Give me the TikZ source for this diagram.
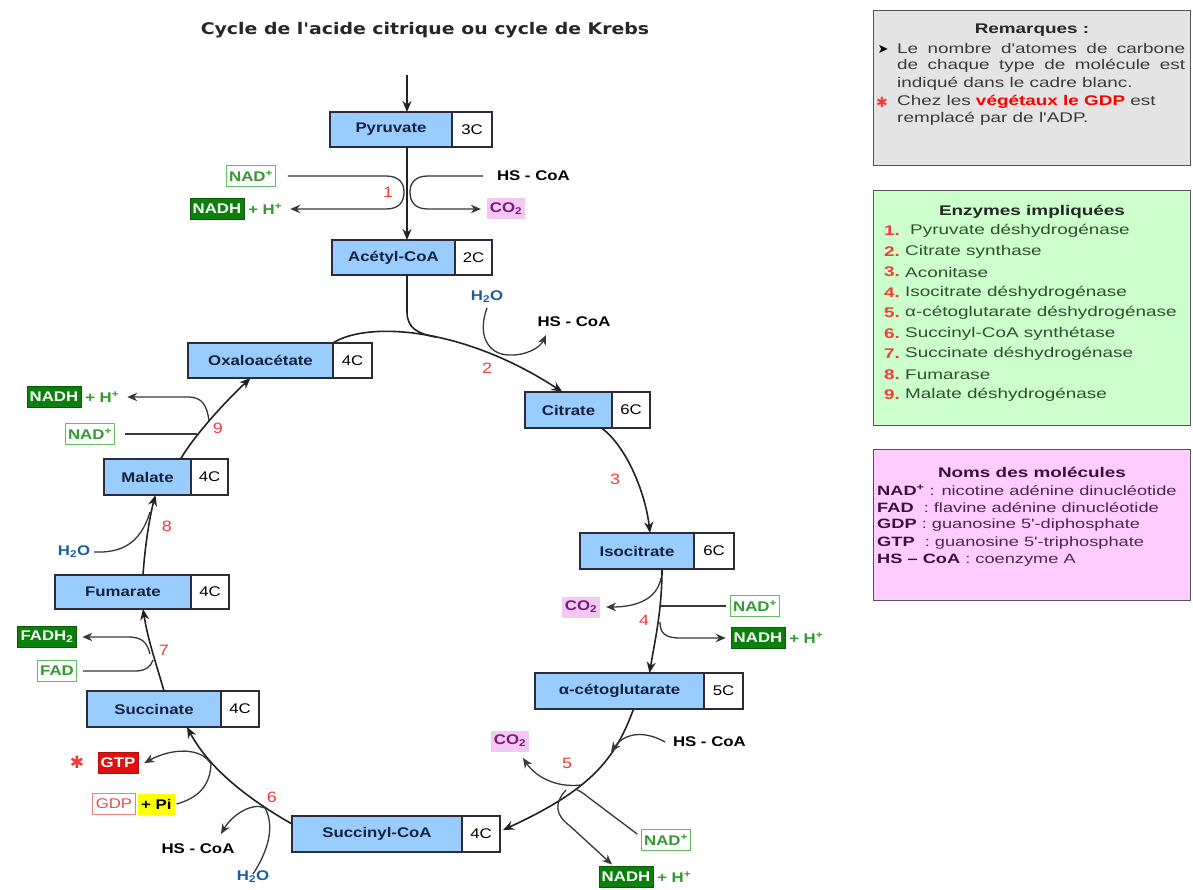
\documentclass[tikz,border=0pt]{standalone}
\usepackage{fontspec}
\setmainfont{Liberation Sans}
\newfontfamily\lab[FakeStretch=1.2]{Liberation Sans}
\newfontfamily\rf[FakeStretch=1.35]{Liberation Sans}
\newfontfamily\dv{DejaVu Sans}
\newfontfamily\ttl[FakeStretch=1.18]{DejaVu Sans}
\usetikzlibrary{arrows.meta}
\newcommand\myfs[1]{\fontsize{#1}{#1}\selectfont}
\definecolor{molblue}{HTML}{99CCFF}
\definecolor{molink}{HTML}{14223C}
\definecolor{boxline}{HTML}{2B2B3A}
\definecolor{arrc}{HTML}{222222}
\definecolor{sidec}{HTML}{383838}
\definecolor{nadbord}{HTML}{66BB66}
\definecolor{nadtext}{HTML}{339933}
\definecolor{nadhfill}{HTML}{0B800B}
\definecolor{co2bg}{HTML}{F3C8F3}
\definecolor{co2text}{HTML}{7A1A7A}
\definecolor{h2otext}{HTML}{1F5C9E}
\definecolor{numred}{HTML}{F03C3C}
\definecolor{gtpred}{HTML}{E01010}
\definecolor{gdpbord}{HTML}{F08080}
\definecolor{gdptext}{HTML}{E05050}
\definecolor{piyel}{HTML}{FFFF00}
\definecolor{remfill}{HTML}{E4E4E4}
\definecolor{enzfill}{HTML}{CCFFCC}
\definecolor{nomfill}{HTML}{FFCCFF}
\definecolor{framec}{HTML}{555555}
\definecolor{remtext}{HTML}{3A3A3A}
\definecolor{enztext}{HTML}{2F4F2F}
\definecolor{nomtext}{HTML}{4A2A4A}
\definecolor{nombold}{HTML}{3A103A}
\tikzset{
 molb/.style={draw=boxline, fill=molblue, line width=1.2pt, inner sep=0pt, outer sep=0pt, anchor=north west, text=molink, font=\lab\myfs{14}\bfseries},
 molc/.style={draw=boxline, fill=white, line width=1.2pt, inner sep=0pt, outer sep=0pt, anchor=north west, text=black, font=\lab\myfs{14}},
 rx/.style={draw=arrc, line width=1.6pt, -{Stealth[length=11pt,width=9pt]}},
 mainline/.style={draw=arrc, line width=1.6pt},
 side/.style={draw=sidec, line width=1.3pt},
 sidearr/.style={side, -{Stealth[length=10pt,width=8.5pt]}},
 lblbase/.style={inner sep=0pt, outer sep=0pt, font=\lab\myfs{14}\bfseries},
 hs/.style={lblbase, text=black},
 tag/.style={lblbase, minimum height=21pt, inner xsep=3pt},
 nad/.style={tag, draw=nadbord, line width=1pt, fill=white, text=nadtext},
 nadh/.style={tag, fill=nadhfill, draw=nadhfill!70!black, text=white},
 hplus/.style={lblbase, text=nadtext, anchor=west},
 co2/.style={tag, fill=co2bg, text=co2text},
 h2o/.style={lblbase, text=h2otext},
 num/.style={inner sep=0pt, text=numred, font=\lab\myfs{15}},
 panel/.style={draw=framec, line width=1.2pt, anchor=north west, minimum width=317pt, inner sep=0pt},
 rtxt/.style={inner sep=0pt, anchor=west, font=\rf\myfs{14}},
 rnum/.style={inner sep=0pt, anchor=west, font=\rf\myfs{14}\bfseries, text=numred},
}
\newcommand\molbox[8]{%
 \node[molb, minimum width={(#3-#2)*1pt}, minimum height={(#6-#5)*1pt}] (#1) at (#2,#5) {#7};
 \node[molc, minimum width={(#4-#3)*1pt}, minimum height={(#6-#5)*1pt}] (#1n) at (#3,#5) {#8};}
\begin{document}
\begin{tikzpicture}[x=1pt,y=-1pt]
\useasboundingbox (0,0) rectangle (1193,890);
\fill[white] (0,0) rectangle (1193,890);
% title
\node[font=\ttl\myfs{16}\bfseries, text=black!85, inner sep=0pt] (title) at (425,30) {Cycle de l'acide citrique ou cycle de Krebs};
% molecules
\molbox{pyr}{330}{452}{492}{112}{147}{Pyruvate}{3C}
\molbox{acet}{332}{455}{492}{240}{275}{Acétyl-CoA}{2C}
\molbox{oxa}{188}{333}{372}{343}{378}{Oxaloacétate}{4C}
\molbox{cit}{525}{612}{650}{392}{428}{Citrate}{6C}
\molbox{iso}{580}{694}{734}{533}{569}{Isocitrate}{6C}
\molbox{akg}{535}{704}{743}{673}{709}{α-cétoglutarate}{5C}
\molbox{scoa}{292}{462}{500}{816}{852}{Succinyl-CoA}{4C}
\molbox{succ}{87}{221}{259}{691}{727}{Succinate}{4C}
\molbox{fum}{55}{191}{229}{575}{609}{Fumarate}{4C}
\molbox{mal}{104}{191}{228}{459}{495}{Malate}{4C}
% ---- step 0 / 1
\coordinate (src) at (407,75);
\draw[rx] (src) -- (src |- pyr.north);
\draw[rx] (src |- pyr.south) -- (src |- acet.north);
\node[nad] (nad1) at (251,176) {NAD\textsuperscript{+}};
\node[nadh] (nadh1) at (217,209) {NADH};
\node[hplus] (hp1) at ([xshift=4pt]nadh1.east) {+ H\textsuperscript{+}};
\node[hs, anchor=west] (hs1) at (497,176) {HS - CoA};
\node[co2] (co21) at (506,209) {CO\textsubscript{2}};
\node[num] (n1) at (388,192) {1};
\draw[sidearr] ([xshift=12pt]nad1.east) -- (386,176) .. controls (399,176) and (404,183) .. (404,192) .. controls (404,202) and (399,209) .. (386,209) -- ([xshift=8pt]hp1.east);
\draw[sidearr] ([xshift=-14pt]hs1.west) -- (428,176) .. controls (415,176) and (410,183) .. (410,192) .. controls (410,202) and (415,209) .. (428,209) -- ([xshift=-6pt]co21.west);
% ---- step 2
\draw[rx] (oxa.north east) .. controls (365,322) and (460,325) .. ([xshift=-6pt]cit.north);
\draw[mainline] (src |- acet.south) -- (407,312) .. controls (407,328) and (418,334) .. (436,337);
\node[h2o] (h2o2) at (487,297) {H\textsubscript{2}O};
\node[hs] (hs2) at (574,322) {HS - CoA};
\node[num] (n2) at (487,368) {2};
\draw[sidearr] ([yshift=-5pt]h2o2.south) .. controls (477,335) and (488,354) .. (508,355) .. controls (525,356) and (540,348) .. (546,335);
% ---- step 3
\draw[rx] ([xshift=33pt]cit.south) .. controls (625,445) and (645,490) .. ([xshift=13pt]iso.north);
\node[num] (n3) at (615,479) {3};
% ---- step 4
\draw[rx] ([xshift=25pt]iso.south) .. controls (662,610) and (655,640) .. ([xshift=30pt]akg.north);
\node[co2] (co24) at (581,607) {CO\textsubscript{2}};
\node[nad] (nad4) at (755,606) {NAD\textsuperscript{+}};
\node[nadh] (nadh4) at (758,638) {NADH};
\node[hplus] (hp4) at ([xshift=4pt]nadh4.east) {+ H\textsuperscript{+}};
\node[num] (n4) at (644,620) {4};
\draw[sidearr] (661,578) .. controls (657,600) and (635,607) .. ([xshift=6pt]co24.east);
\draw[side] ([xshift=-4pt]nad4.west) -- (661,606);
\draw[sidearr] (660,622) .. controls (660,633) and (665,638) .. (680,638) -- ([xshift=-5pt]nadh4.west);
% ---- step 5
\draw[rx] ([xshift=14pt]akg.south) .. controls (615,760) and (590,790) .. ([xshift=3pt,yshift=4pt]scoan.east);
\node[hs, anchor=west] (hs5) at (673,742) {HS - CoA};
\node[co2] (co25) at (510,741) {CO\textsubscript{2}};
\node[nad] (nad5) at (666,840) {NAD\textsuperscript{+}};
\node[nadh] (nadh5) at (626,877) {NADH};
\node[hplus] (hp5) at ([xshift=4pt]nadh5.east) {+ H\textsuperscript{+}};
\node[num] (n5) at (567,763) {5};
\draw[sidearr] ([xshift=-8pt]hs5.west) .. controls (640,728) and (622,736) .. (611,752);
\draw[sidearr] (581,785) .. controls (555,788) and (535,776) .. (523,758);
\draw[side] ([xshift=-4pt,yshift=6pt]nad5.west) -- (588,797) .. controls (582,792) and (578,790) .. (575,789);
\draw[sidearr] (566,790) .. controls (554,803) and (555,815) .. (570,826) -- ([xshift=-14pt,yshift=2pt]nadh5.north);
% ---- step 6
\draw[rx] ([yshift=10pt]scoa.west) .. controls (250,800) and (210,770) .. ([xshift=33pt]succ.south);
\node[hs] (hs6) at (198,849) {HS - CoA};
\node[h2o] (h2o6) at (253,877) {H\textsubscript{2}O};
\node[num] (n6) at (272,797) {6};
\node[tag, fill=gtpred, draw=gtpred!80!black, text=white] (gtp) at (118,763) {GTP};
\node[inner sep=0pt, text=numred, font=\dv\myfs{17}] (star) at (77,762) {✱};
\node[tag, draw=gdpbord, line width=1pt, fill=white, text=gdptext, font=\lab\myfs{14}] (gdp) at (114,804) {GDP};
\node[tag, fill=piyel, text=black, anchor=west] (pi) at ([xshift=3pt]gdp.east) {+ Pi};
\draw[sidearr] (265,808) .. controls (252,802) and (232,815) .. (221,834);
\draw[side] ([yshift=-3pt]h2o6.north) .. controls (272,845) and (273,822) .. (265,808);
\draw[sidearr] (211,764) .. controls (201,747) and (172,748) .. ([xshift=6pt]gtp.east);
\draw[side] ([xshift=2pt]pi.east) .. controls (198,798) and (210,786) .. (211,764);
% ---- step 7
\draw[rx] ([xshift=10pt]succ.north) .. controls (155,660) and (148,640) .. ([xshift=20pt]fum.south);
\node[nadh] (fadh) at (47,637) {FADH\textsubscript{2}};
\node[nad] (fad) at (57,671) {FAD};
\node[num] (n7) at (164,650) {7};
\draw[sidearr] (150,654) .. controls (147,643) and (143,637) .. (128,637) -- ([xshift=6pt]fadh.east);
\draw[side] ([xshift=6pt]fad.east) -- (135,671) .. controls (145,671) and (151,667) .. (153,660);
% ---- step 8
\draw[rx] ([xshift=20pt]fum.north) .. controls (145,545) and (150,515) .. ([xshift=8pt]mal.south);
\node[h2o] (h2o8) at (74,552) {H\textsubscript{2}O};
\node[num] (n8) at (167,526) {8};
\draw[side] ([xshift=4pt]h2o8.east) .. controls (120,553) and (140,545) .. (150,512);
% ---- step 9
\draw[rx] ([xshift=33pt]mal.north) .. controls (195,435) and (222,405) .. ([xshift=-10pt]oxa.south);
\node[nadh] (nadh9) at (54,397) {NADH};
\node[hplus] (hp9) at ([xshift=4pt]nadh9.east) {+ H\textsuperscript{+}};
\node[nad] (nad9) at (90,434) {NAD\textsuperscript{+}};
\node[num] (n9) at (218,428) {9};
\draw[sidearr] (209,421) .. controls (207,405) and (202,397) .. (188,397) -- ([xshift=8pt]hp9.east);
\draw[side] ([xshift=10pt]nad9.east) -- (197,434);
% ---- panels
\node[panel, fill=remfill, minimum height=155pt] (rem) at (873,10) {};
\node[inner sep=0pt, font=\rf\myfs{14}\bfseries, text=black!85] (remt) at (1032,30) {Remarques :};
\node[inner sep=0pt, font=\dv\myfs{13}, text=black] (bul) at (883,49) {➤};
\node[rtxt, text=remtext, font=\rf\myfs{14}] (r1) at (897,49) {\makebox[288pt][s]{Le nombre d'atomes de carbone}};
\node[rtxt, text=remtext, font=\rf\myfs{14}] (r2) at (897,66) {\makebox[288pt][s]{de chaque type de molécule est}};
\node[rtxt, text=remtext, font=\rf\myfs{14}] (r3) at (897,84) {indiqué dans le cadre blanc.};
\node[inner sep=0pt, text=numred, font=\dv\myfs{14}] (star2) at (882,102) {✱};
\node[rtxt, text=remtext, font=\rf\myfs{14}] (r4) at (897,102) {Chez les \textcolor{red}{\bfseries végétaux le GDP} est};
\node[rtxt, text=remtext, font=\rf\myfs{14}] (r5) at (897,119) {remplacé par de l'ADP.};
%
\node[panel, fill=enzfill, minimum height=235pt] (enz) at (873,190) {};
\node[inner sep=0pt, font=\rf\myfs{14}\bfseries, text=black!85] (enzt) at (1032,212) {Enzymes impliquées};
\node[rnum] (e1n) at (884,231) {1.};
\node[rtxt, text=enztext] (e1) at (910,231) {Pyruvate déshydrogénase};
\node[rnum] (e2n) at (884,251.5) {2.};
\node[rtxt, text=enztext] (e2) at (905,251.5) {Citrate synthase};
\node[rnum] (e3n) at (884,272) {3.};
\node[rtxt, text=enztext] (e3) at (905,272) {Aconitase};
\node[rnum] (e4n) at (884,292.5) {4.};
\node[rtxt, text=enztext] (e4) at (905,292.5) {Isocitrate déshydrogénase};
\node[rnum] (e5n) at (884,313) {5.};
\node[rtxt, text=enztext] (e5) at (905,313) {α-cétoglutarate déshydrogénase};
\node[rnum] (e6n) at (884,333.5) {6.};
\node[rtxt, text=enztext] (e6) at (905,333.5) {Succinyl-CoA synthétase};
\node[rnum] (e7n) at (884,354) {7.};
\node[rtxt, text=enztext] (e7) at (905,354) {Succinate déshydrogénase};
\node[rnum] (e8n) at (884,374.5) {8.};
\node[rtxt, text=enztext] (e8) at (905,374.5) {Fumarase};
\node[rnum] (e9n) at (884,395) {9.};
\node[rtxt, text=enztext] (e9) at (905,395) {Malate déshydrogénase};
%
\node[panel, fill=nomfill, minimum height=151pt] (nom) at (873,449) {};
\node[inner sep=0pt, font=\rf\myfs{14}\bfseries, text=nombold] (nomt) at (1032,472) {Noms des molécules};
\node[rtxt, text=nomtext, font=\rf\myfs{13.5}] (m1) at (877,490) {\textcolor{nombold}{\bfseries NAD\textsuperscript{+}} : nicotine adénine dinucléotide};
\node[rtxt, text=nomtext, font=\rf\myfs{13.5}] (m2) at (877,508) {\textcolor{nombold}{\bfseries FAD} \ : flavine adénine dinucléotide};
\node[rtxt, text=nomtext, font=\rf\myfs{13.5}] (m3) at (877,525.5) {\textcolor{nombold}{\bfseries GDP} : guanosine 5'-diphosphate};
\node[rtxt, text=nomtext, font=\rf\myfs{13.5}] (m4) at (877,543) {\textcolor{nombold}{\bfseries GTP} \ : guanosine 5'-triphosphate};
\node[rtxt, text=nomtext, font=\rf\myfs{13.5}] (m5) at (877,560.5) {\textcolor{nombold}{\bfseries HS – CoA} : coenzyme A};
\end{tikzpicture}
\end{document}
